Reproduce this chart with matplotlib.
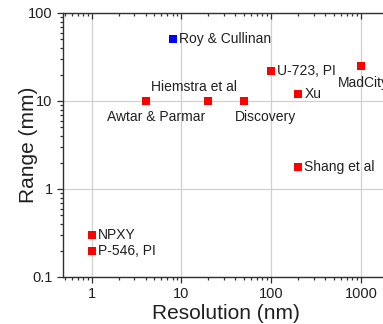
import matplotlib
matplotlib.use("Agg")
import matplotlib.pyplot as plt
from matplotlib.ticker import LogLocator, NullFormatter, FixedLocator, FixedFormatter

plt.rcParams['font.family'] = ['Liberation Sans', 'DejaVu Sans']

# data
names = ["Roy & Cullinan", "Awtar & Parmar", "Hiemstra et al", "Discovery",
         "U-723, PI", "Xu", "MadCity", "Shang et al", "NPXY", "P-546, PI"]
resolution = [8, 4, 20, 50, 100, 200, 1000, 200, 1, 1]
rng = [50, 10, 10, 10, 22, 12, 25, 1.8, 0.3, 0.2]
colors = ["blue", "red", "red", "red", "red", "red", "red", "red", "red", "red"]
# label offsets in pixels (dx, dy) and alignment
offsets = [(6, 0, "left"), (10, -16, "center"), (-14, 14, "center"), (21, -16, "center"),
           (6, 0, "left"), (6, 0, "left"), (-23, -17, "left"), (6, 0, "left"),
           (6, 0, "left"), (6, 0, "left")]

fig = plt.figure(figsize=(3.83, 3.24), dpi=100)
ax = fig.add_axes([63/383, 47/324, 325/383, 264/324])

ax.set_xscale("log")
ax.set_yscale("log")
ax.set_xlim(0.48, 2000)
ax.set_ylim(0.1, 100)

ax.grid(True, which="major", color="#d0d0d0", linewidth=0.9)
ax.set_axisbelow(True)

for x, y, c, n, (dx, dy, ha) in zip(resolution, rng, colors, names, offsets):
    ax.plot(x, y, "s", color=c, markersize=6, markeredgewidth=0)
    ax.annotate(n, (x, y), xytext=(dx*0.72, dy*0.72), textcoords="offset points",
                ha=ha, va="center", fontsize=10, color="#202020")

ax.xaxis.set_major_locator(FixedLocator([1, 10, 100, 1000]))
ax.xaxis.set_major_formatter(FixedFormatter(["1", "10", "100", "1000"]))
ax.yaxis.set_major_locator(FixedLocator([0.1, 1, 10, 100]))
ax.yaxis.set_major_formatter(FixedFormatter(["0.1", "1", "10", "100"]))
ax.xaxis.set_minor_locator(LogLocator(base=10, subs=range(2, 10)))
ax.yaxis.set_minor_locator(LogLocator(base=10, subs=range(2, 10)))
ax.xaxis.set_minor_formatter(NullFormatter())
ax.yaxis.set_minor_formatter(NullFormatter())

ax.tick_params(which="both", direction="out", top=True, right=False,
               labelsize=10.5, colors="#303030", labelcolor="#202020", width=0.9)
ax.tick_params(which="major", length=4)
ax.tick_params(which="minor", length=2.5)
for t in ax.xaxis.get_major_ticks() + ax.xaxis.get_minor_ticks():
    t.tick2line.set_marker(3)  # inward ticks on the top

for s in ax.spines.values():
    s.set_color("#303030")
    s.set_linewidth(1.0)

ax.set_xlabel("Resolution (nm)", fontsize=15, labelpad=2, color="#202020")
ax.set_ylabel("Range (mm)", fontsize=15, labelpad=-7, color="#202020")

fig.savefig("out.png", dpi=100)
